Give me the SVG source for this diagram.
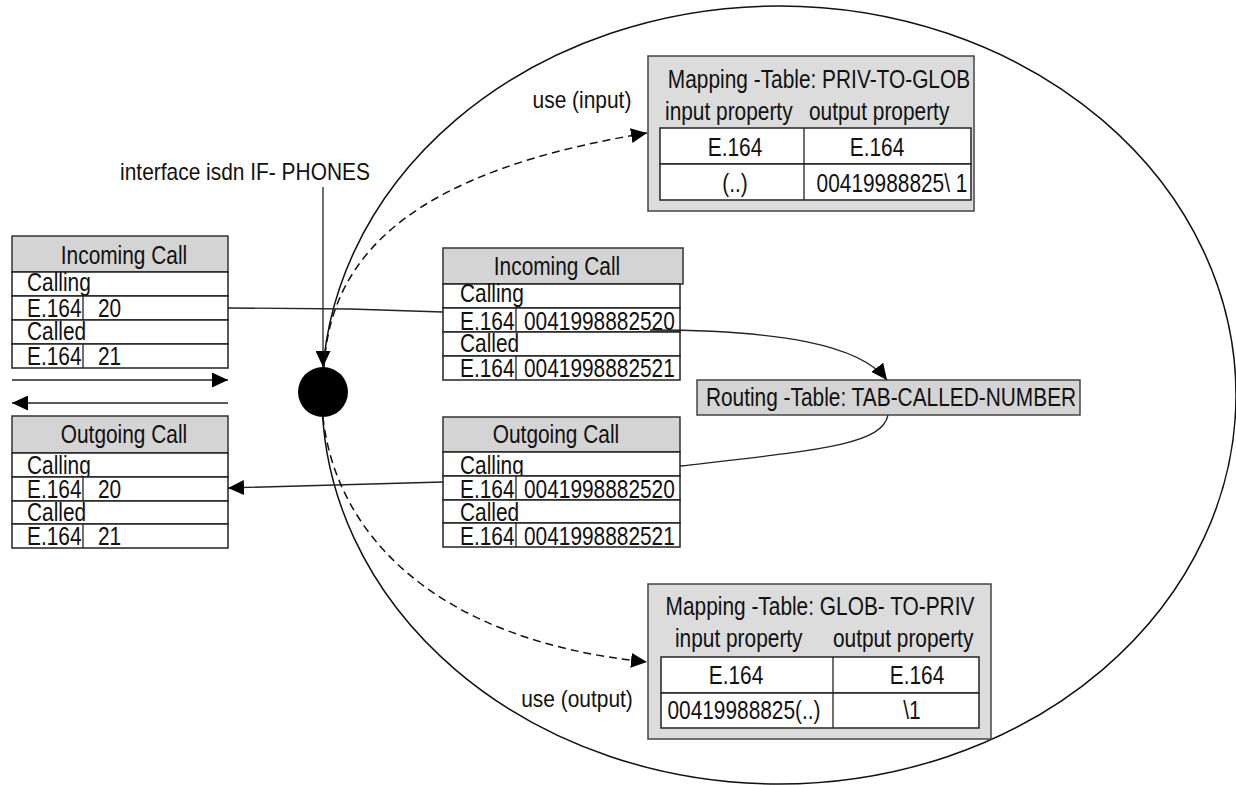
<svg xmlns="http://www.w3.org/2000/svg" width="1236" height="785" viewBox="0 0 1236 785">
<defs>
<style>
text{font-family:"Liberation Sans",Arial,sans-serif;font-size:25px;fill:#111}
.c{text-anchor:middle}
.hdr{fill:#d4d4d4;stroke:#333;stroke-width:1.5}
.row{fill:#fff;stroke:#222;stroke-width:1.5}
.box{fill:#dcdcdc;stroke:#444;stroke-width:1.5}
.ln{fill:none;stroke:#222;stroke-width:1.3}
.dash{fill:none;stroke:#111;stroke-width:1.5;stroke-dasharray:8 5}
.sm{font-size:23px}
</style>
<marker id="ah" markerUnits="userSpaceOnUse" markerWidth="17" markerHeight="15" refX="16" refY="7.5" orient="auto">
<path d="M0,0 L16,7.5 L0,15 z" fill="#000"/>
</marker>
</defs>

<g id="boundary">
<ellipse cx="779" cy="395" rx="457" ry="389" fill="none" stroke="#111" stroke-width="1.5"/>
</g>

<g id="left-incoming">
<rect class="hdr" x="12" y="236" width="216" height="36"/>
<text class="c" x="124" y="264" transform="matrix(0.835,0,0,1,20.46,0)">Incoming Call</text>
<rect class="row" x="12" y="272" width="216" height="24"/>
<text x="27" y="291" transform="matrix(0.835,0,0,1,4.455,0)">Calling</text>
<rect class="row" x="12" y="296" width="216" height="24"/>
<line class="ln" x1="83" y1="296" x2="83" y2="320"/>
<text x="27" y="317" transform="matrix(0.835,0,0,1,4.455,0)">E.164</text>
<text x="98" y="317" transform="matrix(0.835,0,0,1,16.17,0)">20</text>
<rect class="row" x="12" y="320" width="216" height="24"/>
<text x="27" y="340" transform="matrix(0.835,0,0,1,4.455,0)">Called</text>
<rect class="row" x="12" y="344" width="216" height="24"/>
<line class="ln" x1="83" y1="344" x2="83" y2="368"/>
<text x="27" y="365" transform="matrix(0.835,0,0,1,4.455,0)">E.164</text>
<text x="98" y="365" transform="matrix(0.835,0,0,1,16.17,0)">21</text>
</g>

<g id="left-outgoing">
<rect class="hdr" x="12" y="416" width="216" height="37"/>
<text class="c" x="124" y="443" transform="matrix(0.835,0,0,1,20.46,0)">Outgoing Call</text>
<rect class="row" x="12" y="453" width="216" height="24"/>
<text x="27" y="474" transform="matrix(0.835,0,0,1,4.455,0)">Calling</text>
<rect class="row" x="12" y="477" width="216" height="24"/>
<line class="ln" x1="83" y1="477" x2="83" y2="501"/>
<text x="27" y="498" transform="matrix(0.835,0,0,1,4.455,0)">E.164</text>
<text x="98" y="498" transform="matrix(0.835,0,0,1,16.17,0)">20</text>
<rect class="row" x="12" y="501" width="216" height="23"/>
<text x="27" y="521" transform="matrix(0.835,0,0,1,4.455,0)">Called</text>
<rect class="row" x="12" y="524" width="216" height="24"/>
<line class="ln" x1="83" y1="524" x2="83" y2="548"/>
<text x="27" y="545" transform="matrix(0.835,0,0,1,4.455,0)">E.164</text>
<text x="98" y="545" transform="matrix(0.835,0,0,1,16.17,0)">21</text>
</g>

<g id="interface-point">
<circle cx="323" cy="392" r="25" fill="#000"/>
<text class="c sm" x="245" y="180" transform="matrix(0.91,0,0,1,22.05,0)">interface isdn IF- PHONES</text>
</g>

<g id="mid-incoming">
<rect class="hdr" x="443" y="248" width="240" height="36"/>
<text class="c" x="557" y="275" transform="matrix(0.835,0,0,1,91.905,0)">Incoming Call</text>
<rect class="row" x="443" y="284" width="237" height="24"/>
<text x="460" y="302" transform="matrix(0.835,0,0,1,75.9,0)">Calling</text>
<rect class="row" x="443" y="308" width="237" height="24"/>
<line class="ln" x1="516" y1="308" x2="516" y2="332"/>
<text x="460" y="330" transform="matrix(0.835,0,0,1,75.9,0)">E.164</text>
<text x="524" y="330" transform="matrix(0.835,0,0,1,86.46,0)">0041998882520</text>
<rect class="row" x="443" y="332" width="237" height="24"/>
<text x="460" y="352" transform="matrix(0.835,0,0,1,75.9,0)">Called</text>
<rect class="row" x="443" y="356" width="237" height="24"/>
<line class="ln" x1="516" y1="356" x2="516" y2="380"/>
<text x="460" y="377" transform="matrix(0.835,0,0,1,75.9,0)">E.164</text>
<text x="524" y="377" transform="matrix(0.835,0,0,1,86.46,0)">0041998882521</text>
</g>

<g id="mid-outgoing">
<rect class="hdr" x="443" y="417" width="237" height="35"/>
<text class="c" x="556" y="443" transform="matrix(0.835,0,0,1,91.74,0)">Outgoing Call</text>
<rect class="row" x="443" y="452" width="237" height="24"/>
<text x="460" y="474" transform="matrix(0.835,0,0,1,75.9,0)">Calling</text>
<rect class="row" x="443" y="476" width="237" height="24"/>
<line class="ln" x1="516" y1="476" x2="516" y2="500"/>
<text x="460" y="498" transform="matrix(0.835,0,0,1,75.9,0)">E.164</text>
<text x="524" y="498" transform="matrix(0.835,0,0,1,86.46,0)">0041998882520</text>
<rect class="row" x="443" y="500" width="237" height="23"/>
<text x="460" y="521" transform="matrix(0.835,0,0,1,75.9,0)">Called</text>
<rect class="row" x="443" y="523" width="237" height="24"/>
<line class="ln" x1="516" y1="523" x2="516" y2="547"/>
<text x="460" y="545" transform="matrix(0.835,0,0,1,75.9,0)">E.164</text>
<text x="524" y="545" transform="matrix(0.835,0,0,1,86.46,0)">0041998882521</text>
</g>

<g id="routing-table">
<rect class="box" x="697" y="380" width="383" height="35" style="fill:#d4d4d4"/>
<text class="c" x="891" y="406" transform="matrix(0.835,0,0,1,147.015,0)">Routing -Table: TAB-CALLED-NUMBER</text>
</g>

<g id="map-priv-to-glob">
<rect class="box" x="648" y="56" width="326" height="155"/>
<text class="c" x="819" y="88" transform="matrix(0.835,0,0,1,135.135,0)">Mapping -Table: PRIV-TO-GLOB</text>
<text x="665" y="120" transform="matrix(0.835,0,0,1,109.725,0)">input property</text>
<text x="809" y="120" transform="matrix(0.835,0,0,1,133.485,0)">output property</text>
<rect class="row" x="660" y="128" width="311" height="36"/>
<rect class="row" x="660" y="164" width="311" height="36"/>
<line class="ln" x1="804" y1="128" x2="804" y2="200"/>
<text class="c" x="735" y="156" transform="matrix(0.835,0,0,1,121.275,0)">E.164</text>
<text class="c" x="877" y="156" transform="matrix(0.835,0,0,1,144.705,0)">E.164</text>
<text class="c" x="735" y="192" transform="matrix(0.835,0,0,1,121.275,0)">(..)</text>
<text class="c" x="892" y="192" transform="matrix(0.835,0,0,1,147.18,0)">00419988825\ 1</text>
</g>

<g id="map-glob-to-priv">
<rect class="box" x="648" y="584" width="343" height="155"/>
<text class="c" x="820" y="615" transform="matrix(0.835,0,0,1,135.3,0)">Mapping -Table: GLOB- TO-PRIV</text>
<text x="675" y="647" transform="matrix(0.835,0,0,1,111.375,0)">input property</text>
<text x="833" y="647" transform="matrix(0.835,0,0,1,137.445,0)">output property</text>
<rect class="row" x="661" y="657" width="318" height="36"/>
<rect class="row" x="661" y="693" width="318" height="35"/>
<line class="ln" x1="833" y1="657" x2="833" y2="728"/>
<text class="c" x="736" y="684" transform="matrix(0.835,0,0,1,121.44,0)">E.164</text>
<text class="c" x="917" y="684" transform="matrix(0.835,0,0,1,151.305,0)">E.164</text>
<text class="c" x="744" y="719" transform="matrix(0.835,0,0,1,122.76,0)">00419988825(..)</text>
<text class="c" x="912" y="719" transform="matrix(0.835,0,0,1,150.48,0)">\1</text>
</g>

<g id="connectors">
<line class="ln" x1="12" y1="380" x2="228" y2="380" marker-end="url(#ah)"/>
<line class="ln" x1="228" y1="403" x2="12" y2="403" marker-end="url(#ah)"/>
<line class="ln" x1="323" y1="187" x2="323" y2="367" marker-end="url(#ah)"/>
<path class="ln" d="M228,308 L350,309 L443,312"/>
<path class="ln" d="M650,330 C780,330 860,345 887,380" marker-end="url(#ah)"/>
<path class="ln" d="M888,415 C882,445 820,450 680,466"/>
<path class="ln" d="M443,482 L228,488" marker-end="url(#ah)"/>
<path class="dash" d="M324,368 C330,250 420,170 647,133" marker-end="url(#ah)"/>
<path class="dash" d="M323,417 C335,530 430,640 647,662" marker-end="url(#ah)"/>
<text class="c sm" x="582" y="108" transform="matrix(0.91,0,0,1,52.38,0)">use (input)</text>
<text class="c sm" x="577" y="707" transform="matrix(0.91,0,0,1,51.93,0)">use (output)</text>
</g>
</svg>
